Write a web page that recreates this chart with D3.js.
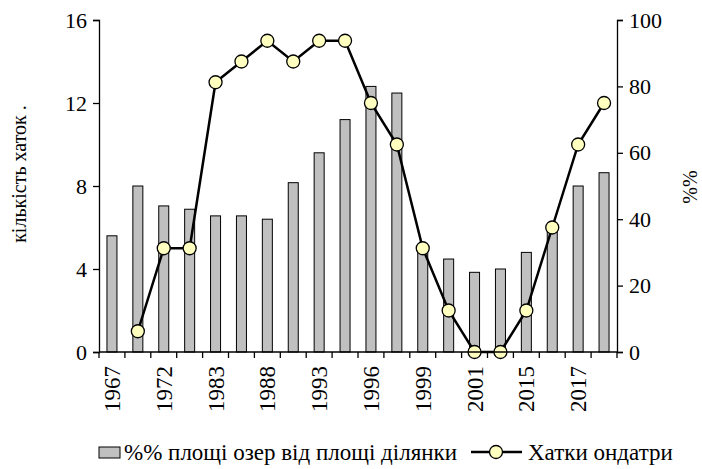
<!DOCTYPE html>
<html>
<head>
<meta charset="utf-8">
<script src="https://cdn.jsdelivr.net/npm/d3@7"></script>
<style>
  body { margin: 0; background: #fff; }
</style>
</head>
<body>
<svg id="chart" width="702" height="469"></svg>
<script>
// categories (only every other one is labelled on the axis)
const years = ["1967", "1970", "1972", "1980", "1983", "1985", "1988", "1990", "1993", "1995",
               "1996", "1998", "1999", "2000", "2001", "2003", "2015", "2016", "2017", "2018"];
// %% of lake area from plot area (right axis)
const lakePct = [35, 50, 44, 43, 41, 41, 40, 51, 60, 70, 80, 78, 31, 28, 24, 25, 30, 38, 50, 54];
// number of muskrat lodges (left axis), null = no value
const lodges = [null, 1, 5, 5, 13, 14, 15, 14, 15, 15, 12, 10, 5, 2, 0, 0, 2, 6, 10, 12];
const leftTicks = [0, 4, 8, 12, 16];
const rightTicks = [0, 20, 40, 60, 80, 100];

const FONT = "Liberation Serif";

const svg = d3.select("#chart");
const m = {left: 99, right: 617, top: 20, bottom: 352};

const x = d3.scaleBand().domain(years).range([m.left, m.right]);
const yL = d3.scaleLinear().domain([0, 16]).range([m.bottom, m.top]);
const yR = d3.scaleLinear().domain([0, 100]).range([m.bottom, m.top]);

// bars
const barW = 10;
svg.append("g").selectAll("rect")
  .data(years)
  .join("rect")
    .attr("x", d => x(d) + x.bandwidth() / 2 - barW / 2)
    .attr("y", (d, i) => yR(lakePct[i]))
    .attr("width", barW)
    .attr("height", (d, i) => m.bottom - yR(lakePct[i]))
    .attr("fill", "#c0c0c0")
    .attr("stroke", "#000")
    .attr("stroke-width", 1);

// line
const pts = years.map((d, i) => ({year: d, v: lodges[i]})).filter(p => p.v != null);
const line = d3.line()
  .x(p => x(p.year) + x.bandwidth() / 2)
  .y(p => yL(p.v));
svg.append("path")
  .datum(pts)
  .attr("d", line)
  .attr("fill", "none")
  .attr("stroke", "#000")
  .attr("stroke-width", 2.5);

svg.append("g").selectAll("circle")
  .data(pts)
  .join("circle")
    .attr("cx", p => x(p.year) + x.bandwidth() / 2)
    .attr("cy", p => yL(p.v))
    .attr("r", 6.5)
    .attr("fill", "#ffffc0")
    .attr("stroke", "#000")
    .attr("stroke-width", 1.3);

// axes (text drawn at 20px and scaled up, the serif face renders cleaner that way)
const axL = svg.append("g")
  .attr("transform", `translate(${m.left},0)`)
  .call(d3.axisLeft(yL).tickValues(leftTicks).tickSize(6).tickPadding(5));
const axR = svg.append("g")
  .attr("transform", `translate(${m.right},0)`)
  .call(d3.axisRight(yR).tickValues(rightTicks).tickSize(6).tickPadding(5));
[axL, axR].forEach(a => {
  a.select(".domain").attr("stroke-width", 1.3);
  a.selectAll(".tick line").attr("stroke-width", 1.3);
  a.selectAll("text").attr("fill", "#000").attr("font-size", 20).attr("transform", "scale(1.1)");
});

// x axis: boundary ticks, labels on every other category
const xg = svg.append("g");
xg.append("line")
  .attr("x1", m.left).attr("x2", m.right)
  .attr("y1", m.bottom).attr("y2", m.bottom)
  .attr("stroke", "#000").attr("stroke-width", 1.3);
xg.selectAll("line.t")
  .data(years.concat(["end"]))
  .join("line")
    .attr("class", "t")
    .attr("x1", (d, i) => i < years.length ? x(d) : m.right)
    .attr("x2", (d, i) => i < years.length ? x(d) : m.right)
    .attr("y1", m.bottom).attr("y2", m.bottom + 6)
    .attr("stroke", "#000").attr("stroke-width", 1.3);
xg.selectAll("text")
  .data(years.filter((d, i) => i % 2 === 0))
  .join("text")
    .attr("transform", d => `translate(${x(d) + x.bandwidth() / 2 + 8},${m.bottom + 14}) rotate(-90) scale(1.15)`)
    .attr("text-anchor", "end")
    .attr("font-size", 20)
    .text(d => d);

// axis titles
svg.append("text")
  .attr("transform", "translate(26,174) rotate(-90)")
  .attr("text-anchor", "middle")
  .attr("font-size", 20)
  .text("кількість  хаток .");
svg.append("text")
  .attr("transform", "translate(697,187) rotate(-90)")
  .attr("text-anchor", "middle")
  .attr("font-size", 20)
  .text("%%");

// legend
const lg = svg.append("g");
lg.append("rect")
  .attr("x", 99).attr("y", 447).attr("width", 21).attr("height", 11)
  .attr("fill", "#c0c0c0").attr("stroke", "#000").attr("stroke-width", 1);
lg.append("text")
  .attr("transform", "translate(124,460) scale(1.15)")
  .attr("font-size", 20)
  .text("%% площі озер від площі ділянки");
lg.append("line")
  .attr("x1", 471).attr("x2", 522).attr("y1", 452).attr("y2", 452)
  .attr("stroke", "#000").attr("stroke-width", 2.5);
lg.append("circle")
  .attr("cx", 496).attr("cy", 452).attr("r", 6.5)
  .attr("fill", "#ffffc0").attr("stroke", "#000").attr("stroke-width", 1.3);
lg.append("text")
  .attr("transform", "translate(528,460) scale(1.15)")
  .attr("font-size", 20)
  .text("Хатки ондатри");

// serif everywhere (set on each text so the axis defaults don't win)
svg.selectAll("text").attr("font-family", FONT);
</script>
</body>
</html>
